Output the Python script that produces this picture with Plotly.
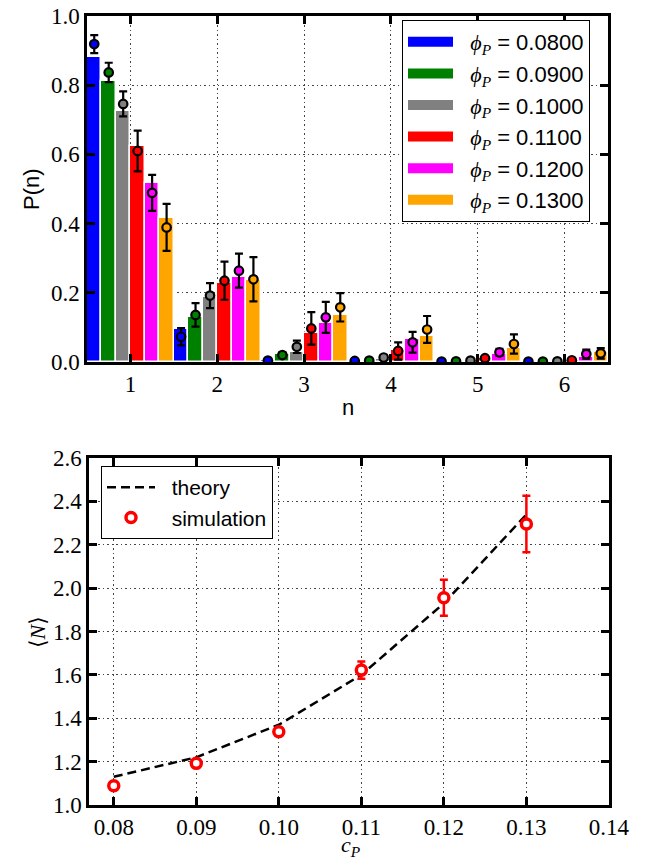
import plotly.graph_objects as go

# ---------------- data: top panel ----------------
n_values = [1, 2, 3, 4, 5, 6]
phi_labels = ["0.0800", "0.0900", "0.1000", "0.1100", "0.1200", "0.1300"]
bar_colors = ["#0000ff", "#008000", "#808080", "#ff0000", "#ff00ff", "#ffa500"]
p_ticks = [0.0, 0.2, 0.4, 0.6, 0.8, 1.0]

# theory (bars)
theory_phi008 = [0.881, 0.095, 0.006, 0.002, 0.001, 0.001]
theory_phi009 = [0.813, 0.131, 0.022, 0.004, 0.002, 0.001]
theory_phi010 = [0.726, 0.189, 0.030, 0.010, 0.004, 0.002]
theory_phi011 = [0.625, 0.229, 0.083, 0.035, 0.012, 0.006]
theory_phi012 = [0.518, 0.245, 0.114, 0.066, 0.022, 0.015]
theory_phi013 = [0.416, 0.237, 0.136, 0.075, 0.040, 0.030]

# simulation (markers with error bars)
sim_phi008 = [0.919, 0.073, 0.004, 0.003, 0.001, 0.001]
sim_phi009 = [0.837, 0.136, 0.020, 0.004, 0.002, 0.001]
sim_phi010 = [0.746, 0.192, 0.044, 0.013, 0.004, 0.002]
sim_phi011 = [0.610, 0.235, 0.097, 0.032, 0.011, 0.005]
sim_phi012 = [0.489, 0.264, 0.129, 0.057, 0.028, 0.023]
sim_phi013 = [0.389, 0.239, 0.158, 0.094, 0.052, 0.025]

err_phi008 = [0.026, 0.025, 0.004, 0.002, 0.001, 0.001]
err_phi009 = [0.028, 0.034, 0.008, 0.003, 0.002, 0.001]
err_phi010 = [0.036, 0.036, 0.018, 0.007, 0.003, 0.002]
err_phi011 = [0.059, 0.055, 0.047, 0.025, 0.006, 0.004]
err_phi012 = [0.052, 0.049, 0.045, 0.030, 0.010, 0.013]
err_phi013 = [0.068, 0.064, 0.041, 0.039, 0.028, 0.015]

# ---------------- data: bottom panel ----------------
c_P = [0.08, 0.09, 0.10, 0.11, 0.12, 0.13]
N_theory = [1.13, 1.22, 1.37, 1.60, 1.93, 2.34]
N_sim = [1.089, 1.192, 1.338, 1.622, 1.956, 2.296]
N_err = [0.012, 0.012, 0.018, 0.040, 0.083, 0.130]
cP_ticks = [0.08, 0.09, 0.10, 0.11, 0.12, 0.13, 0.14]
N_ticks = [1.0, 1.2, 1.4, 1.6, 1.8, 2.0, 2.2, 2.4, 2.6]

theory_sets = [theory_phi008, theory_phi009, theory_phi010, theory_phi011, theory_phi012, theory_phi013]
sim_sets = [sim_phi008, sim_phi009, sim_phi010, sim_phi011, sim_phi012, sim_phi013]
err_sets = [err_phi008, err_phi009, err_phi010, err_phi011, err_phi012, err_phi013]

SERIF = "Liberation Serif, Times New Roman, DejaVu Serif, serif"
SANS = "Liberation Sans, Arial, Helvetica, sans-serif"

# page has an 8px body margin; work in page pixel coordinates
OFF = 8
W, H = 646 - OFF, 859 - OFF
PLOT_L, PLOT_R, PLOT_T, PLOT_B = 87, 609, 16, 805   # page px
ML, MR, MT, MB = PLOT_L - OFF, (W + OFF) - PLOT_R, PLOT_T - OFF, (H + OFF) - PLOT_B
PW, PH = PLOT_R - PLOT_L, PLOT_B - PLOT_T


def px_x(px):
    return (px - PLOT_L) / PW


def px_y(py):
    return (PLOT_B - py) / PH


fig = go.Figure()

nser = len(phi_labels)
for i in range(nser):
    fig.add_trace(go.Bar(
        x=n_values, y=theory_sets[i], marker=dict(color=bar_colors[i], line=dict(color="white", width=1.5)),
        showlegend=False, legendgroup=phi_labels[i], xaxis="x", yaxis="y", hoverinfo="skip",
    ))

for i in range(nser):
    offs = (i - (nser - 1) / 2) / nser
    fig.add_trace(go.Scatter(
        x=[n + offs for n in n_values], y=sim_sets[i], mode="markers",
        marker=dict(color=bar_colors[i], size=8.5, line=dict(color="black", width=2.2)),
        error_y=dict(type="data", array=err_sets[i], color="black", thickness=2.2, width=4),
        showlegend=False, legendgroup=phi_labels[i], xaxis="x", yaxis="y",
    ))

for i in range(nser):
    name = ("&nbsp;&nbsp;<span style='font-family:" + SERIF + "'><i>ϕ</i><sub><i>P</i></sub></span> = "
            + phi_labels[i])
    fig.add_trace(go.Scatter(
        x=[None], y=[None], mode="lines", line=dict(color=bar_colors[i], width=12),
        name=name, legendgroup=phi_labels[i], legend="legend", xaxis="x", yaxis="y",
    ))

fig.add_trace(go.Scatter(
    x=c_P, y=N_theory, mode="lines", line=dict(color="black", width=2.5, dash="9px,5px"),
    name="&nbsp;&nbsp;theory", legend="legend2", legendgroup="th", xaxis="x2", yaxis="y2",
))
fig.add_trace(go.Scatter(
    x=c_P, y=N_sim, mode="markers",
    marker=dict(color="white", size=10, line=dict(color="#ff0000", width=3.5)),
    error_y=dict(type="data", array=N_err, color="#ff0000", thickness=2.5, width=4),
    name="&nbsp;&nbsp;simulation", legend="legend2", legendgroup="sim", xaxis="x2", yaxis="y2",
))

axis_common = dict(
    showline=True, linewidth=2.5, linecolor="black", mirror="allticks",
    ticks="inside", ticklen=8, tickwidth=2.5, tickcolor="black",
    showgrid=True, gridcolor="#444444", gridwidth=1, griddash="1.5px,3px",
    zeroline=False, automargin=False, ticklabeloverflow="allow",
    tickfont=dict(family=SERIF, size=23, color="black"),
)

fig.update_layout(
    width=W, height=H, margin=dict(l=ML, r=MR, t=MT, b=MB, autoexpand=False),
    paper_bgcolor="white", plot_bgcolor="white",
    barmode="group", bargap=0, bargroupgap=0,
    xaxis=dict(axis_common, domain=[0, px_x(608)], range=[0.5, 6.5], tickvals=n_values, anchor="y"),
    yaxis=dict(axis_common, domain=[px_y(362), 1], range=[0, 1.0001], tickvals=p_ticks,
               ticktext=[f"{v:.1f}" for v in p_ticks], anchor="x"),
    xaxis2=dict(axis_common, domain=[px_x(89), 1], range=[0.077, 0.14001], tickvals=cP_ticks,
                ticktext=[f"{v:.2f}" for v in cP_ticks], anchor="y2"),
    yaxis2=dict(axis_common, domain=[0, px_y(458)], range=[1.0, 2.6001], tickvals=N_ticks,
                ticktext=[f"{v:.1f}" for v in N_ticks], anchor="x2"),
    legend=dict(x=px_x(402), y=px_y(20), xanchor="left", yanchor="top", bgcolor="white",
                bordercolor="black", borderwidth=1, tracegroupgap=0, itemwidth=45,
                font=dict(family=SANS, size=22, color="black")),
    legend2=dict(x=px_x(101), y=px_y(466), xanchor="left", yanchor="top", bgcolor="white",
                 bordercolor="black", borderwidth=1, tracegroupgap=0, itemwidth=48,
                 font=dict(family=SANS, size=21, color="black")),
    showlegend=True,
    annotations=[
        dict(text="P(n)", x=px_x(32), y=px_y(189), xref="paper", yref="paper", showarrow=False,
             xanchor="center", yanchor="middle",
             textangle=-90, font=dict(family=SANS, size=22, color="black")),
        dict(text="n", x=px_x(348), y=px_y(407), xref="paper", yref="paper", showarrow=False,
             xanchor="center", yanchor="middle",
             font=dict(family=SANS, size=22, color="black")),
        dict(text="⟨<i>N</i>⟩", x=px_x(37), y=px_y(632), xref="paper", yref="paper", showarrow=False,
             xanchor="center", yanchor="middle",
             textangle=-90, font=dict(family=SERIF, size=22, color="black")),
        dict(text="<i>c</i><sub><i>P</i></sub>", x=px_x(351), y=px_y(846), xref="paper", yref="paper",
             xanchor="center", yanchor="middle",
             showarrow=False, font=dict(family=SERIF, size=22, color="black")),
    ],
)

fig.write_html("out.html")
